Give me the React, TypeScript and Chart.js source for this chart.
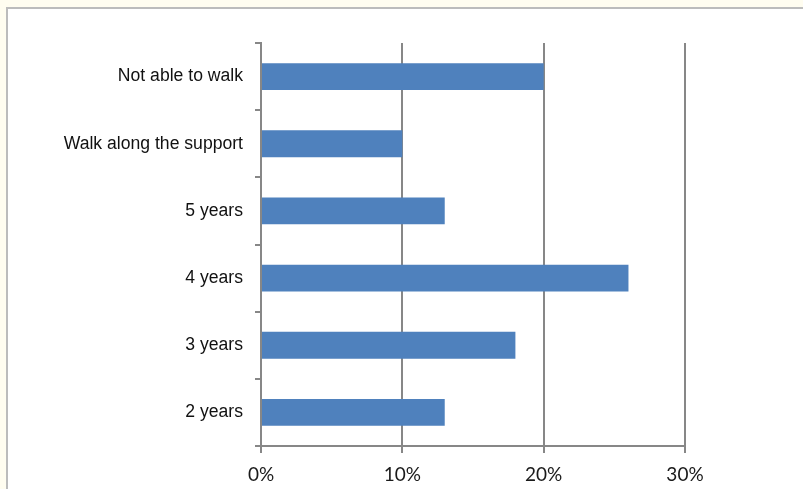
import React, { useEffect, useRef } from "react";
import { Chart, registerables } from "chart.js";

Chart.register(...registerables);

const categories = [
  "Not able to walk",
  "Walk along the support",
  "5 years",
  "4 years",
  "3 years",
  "2 years",
];
const values = [20, 10, 13, 26, 18, 13];
const xTicks = [0, 10, 20, 30];

export default function App() {
  const ref = useRef<HTMLCanvasElement | null>(null);

  useEffect(() => {
    if (!ref.current) return;
    const chart = new Chart(ref.current, {
      type: "bar",
      data: {
        labels: categories,
        datasets: [
          {
            data: values,
            backgroundColor: "#4F81BD",
            borderWidth: 0,
            barPercentage: 0.8,
            categoryPercentage: 0.5,
          },
        ],
      },
      options: {
        indexAxis: "y",
        animation: false,
        responsive: false,
        devicePixelRatio: 1,
        layout: { padding: { left: 0, right: 118, top: 43, bottom: 0 } },
        plugins: {
          legend: { display: false },
          tooltip: { enabled: false },
        },
        scales: {
          x: {
            min: xTicks[0],
            max: xTicks[xTicks.length - 1],
            afterBuildTicks: (axis: any) => {
              axis.ticks = xTicks.map((v) => ({ value: v }));
            },
            afterFit: (axis: any) => {
              axis.height = 43;
            },
            grid: {
              color: "#878787",
              lineWidth: 2,
              drawTicks: true,
              tickLength: 7,
              tickColor: "#878787",
            },
            border: { display: true, color: "#878787", width: 2 },
            ticks: {
              padding: 10,
              color: "#1a1a1a",
              font: { family: "Lato", size: 19 },
              callback: (v: any) => v + "%",
            },
          },
          y: {
            afterFit: (axis: any) => {
              axis.width = 261;
            },
            grid: {
              offset: true,
              drawOnChartArea: false,
              drawTicks: true,
              tickLength: 6,
              color: "#878787",
              lineWidth: 2,
            },
            border: { display: true, color: "#878787", width: 2 },
            ticks: {
              padding: 12,
              color: "#111",
              font: { family: "Liberation Sans", size: 17.6 },
            },
          },
        },
      },
    });
    return () => chart.destroy();
  }, []);

  return (
    <div
      style={{
        position: "fixed",
        left: 0,
        top: 0,
        width: 803,
        height: 489,
        background: "#FFFDF0",
        overflow: "hidden",
      }}
    >
      <div
        style={{
          position: "absolute",
          left: 6,
          top: 7,
          width: 900,
          height: 600,
          background: "#fff",
          border: "2px solid #bcbcbc",
          boxSizing: "border-box",
        }}
      />
      <canvas
        ref={ref}
        width={803}
        height={489}
        style={{ position: "absolute", left: 0, top: 0, width: 803, height: 489 }}
      />
    </div>
  );
}
